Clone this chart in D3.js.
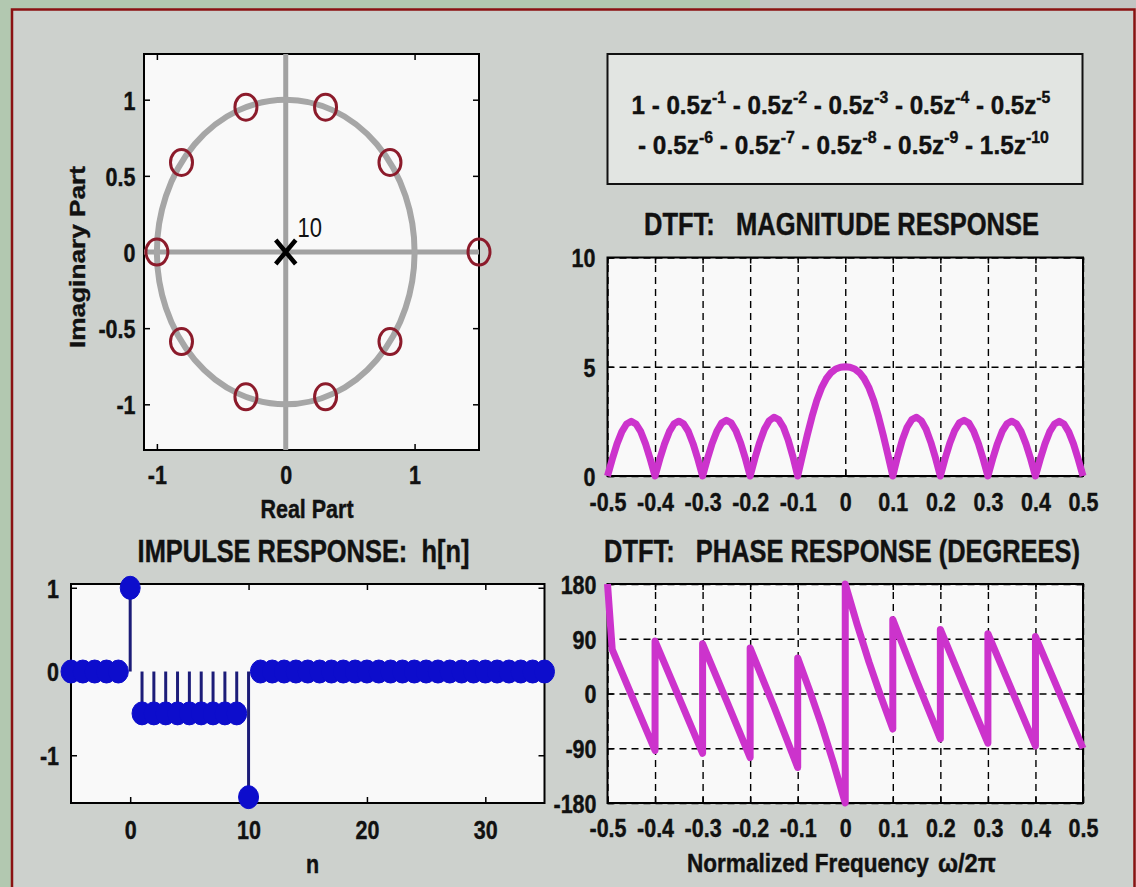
<!DOCTYPE html>
<html lang="en">
<head>
<meta charset="UTF-8">
<title>zplane / impulse / dtft</title>
<script src="https://cdn.jsdelivr.net/npm/d3@7"></script>
<style>
  body { margin: 0; background: #cdd1cd; }
  svg { display: block; }
  text { font-family: "Liberation Sans", Arial, Helvetica, sans-serif; font-weight: bold; fill: #111;
         stroke: #111; stroke-width: 0.35px; white-space: pre; }
</style>
</head>
<body>
<svg id="chart" width="1136" height="887"></svg>
<script>
// numerator of H(z): 1 - 0.5z^-1 - ... - 0.5z^-9 - 1.5z^-10
const numCoef = [1, -0.5, -0.5, -0.5, -0.5, -0.5, -0.5, -0.5, -0.5, -0.5, -1.5];

// zeros and poles
const zeroRe = [1.5, 0.809, 0.309, -0.309, -0.809, -1, -0.809, -0.309, 0.309, 0.809];
const zeroIm = [0, 0.588, 0.951, 0.951, 0.588, 0, -0.588, -0.951, -0.951, -0.588];
const poleRe = [0];
const poleIm = [0];
const poleOrder = ['10'];

// impulse response, n = -5 .. 35
const nStart = -5;
const hn = [0, 0, 0, 0, 0, 1, -0.5, -0.5, -0.5, -0.5, -0.5, -0.5, -0.5, -0.5, -0.5, -1.5,
            0, 0, 0, 0, 0, 0, 0, 0, 0, 0, 0, 0, 0, 0, 0, 0, 0, 0, 0, 0, 0, 0, 0, 0, 0];

// |H| sampled every 0.01 from -0.5 to 0.5
const magStep = 0.01;
const magVals = [0, 0.77, 1.47, 2.02, 2.38, 2.50, 2.38, 2.03, 1.47, 0.77,
                 0, 0.78, 1.47, 2.03, 2.39, 2.51, 2.39, 2.04, 1.48, 0.78,
                 0, 0.78, 1.49, 2.05, 2.42, 2.55, 2.43, 2.07, 1.51, 0.80,
                 0, 0.81, 1.54, 2.14, 2.53, 2.69, 2.58, 2.23, 1.65, 0.88,
                 0, 0.94, 1.86, 2.71, 3.45, 4.03, 4.45, 4.73, 4.90, 4.98,
                 5.00,
                 4.98, 4.90, 4.73, 4.45, 4.03, 3.45, 2.71, 1.86, 0.94, 0,
                 0.88, 1.65, 2.23, 2.58, 2.69, 2.53, 2.14, 1.54, 0.81, 0,
                 0.80, 1.51, 2.07, 2.43, 2.55, 2.42, 2.05, 1.49, 0.78, 0,
                 0.78, 1.48, 2.04, 2.39, 2.51, 2.39, 2.03, 1.47, 0.78, 0,
                 0.77, 1.47, 2.03, 2.38, 2.50, 2.38, 2.02, 1.47, 0.77, 0];

// phase (degrees): corners of the saw-tooth, jumps listed twice
const phaseFreq = [-0.5, -0.49, -0.45, -0.4, -0.4, -0.35, -0.3, -0.3, -0.25, -0.2, -0.2, -0.15,
                   -0.1, -0.1, -0.075, -0.05, -0.025, 0, 0, 0.025, 0.05, 0.075, 0.1, 0.1,
                   0.15, 0.2, 0.2, 0.25, 0.3, 0.3, 0.35, 0.4, 0.4, 0.45, 0.5];
const phaseDeg = [180, 72, -1.8, -93.7, 86.3, -5.8, -98.3, 81.7, -11.3, -105.4, 74.6, -21.4,
                  -121.6, 58.4, 5.2, -51.6, -113.5, -180, 180, 113.5, 51.6, -5.2, -58.4, 121.6,
                  21.4, -74.6, 105.4, 11.3, -81.7, 98.3, 5.8, -86.3, 93.7, 1.8, -90];

// tick values
const pzXTicks = [-1, 0, 1];
const pzYTicks = [-1, -0.5, 0, 0.5, 1];
const nTicks = [0, 10, 20, 30];
const hTicks = [-1, 0, 1];
const freqTicks = [-0.5, -0.4, -0.3, -0.2, -0.1, 0, 0.1, 0.2, 0.3, 0.4, 0.5];
const magTicks = [0, 5, 10];
const phaseTicks = [-180, -90, 0, 90, 180];

const VS = 1.22;          // the captured frame is stretched vertically
const TICK_FONT = 21.5;
const MAGENTA = '#cc33cc';
const svg = d3.select('#chart');

// background frame
svg.append('rect').attr('width', 1136).attr('height', 887).attr('fill', '#cdd1cd');
svg.append('rect').attr('width', 750).attr('height', 9).attr('fill', '#b2c8b0');
svg.append('rect').attr('x', 750).attr('width', 386).attr('height', 9).attr('fill', '#c3c5c3');
svg.append('rect').attr('width', 11).attr('height', 887).attr('fill', '#b2c8b0');
svg.append('path').attr('d', 'M12,887V9.5H1134.5V887')
    .attr('fill', 'none').attr('stroke', '#8a1212').attr('stroke-width', 2.5);

// text helper: anchor at (x,y), stretched vertically like the rest of the frame
function label(parent, x, y, str, o = {}) {
    const g = parent.append('g');
    const t = g.append('text')
        .attr('text-anchor', o.anchor || 'middle')
        .attr('dy', o.dy == null ? '0.36em' : o.dy)
        .style('font-size', (o.size || TICK_FONT) + 'px')
        .text(str);
    if (o.weight) t.style('font-weight', o.weight).style('stroke-width', 0);
    if (o.rotate) t.attr('transform', 'rotate(-90)');
    let sx = 1;
    if (o.width) sx = o.width / t.node().getComputedTextLength();
    g.attr('transform', `translate(${x},${y}) scale(${sx},${VS})`);
    return t;
}

function makeAxes(box, xDom, yDom, o) {
    const x = d3.scaleLinear().domain(xDom).range([box.l, box.r]);
    const y = d3.scaleLinear().domain(yDom).range([box.b, box.t]);
    const w = box.r - box.l, h = box.b - box.t;
    const g = svg.append('g');
    g.append('rect').attr('x', box.l).attr('y', box.t).attr('width', w).attr('height', h).attr('fill', '#f9f9f9');

    if (o.grid) {
        g.append('g').attr('class', 'grid').attr('transform', `translate(0,${box.b})`)
            .call(d3.axisBottom(x).tickValues(o.xTicks).tickSize(-h).tickFormat(''));
        g.append('g').attr('class', 'grid').attr('transform', `translate(${box.l},0)`)
            .call(d3.axisLeft(y).tickValues(o.yTicks).tickSize(-w).tickFormat(''));
        g.selectAll('.grid .domain').remove();
        g.selectAll('.grid line').attr('stroke', '#000').attr('stroke-width', 1.4).attr('stroke-dasharray', '7,5');
    }

    g.append('rect').attr('x', box.l).attr('y', box.t).attr('width', w).attr('height', h)
        .attr('fill', 'none').attr('stroke', '#000').attr('stroke-width', 2);

    const bottom = g.append('g').attr('transform', `translate(0,${box.b})`)
        .call(d3.axisBottom(x).tickValues(o.xTicks).tickSizeInner(-6).tickSizeOuter(0).tickFormat(String));
    const left = g.append('g').attr('transform', `translate(${box.l},0)`)
        .call(d3.axisLeft(y).tickValues(o.yTicks).tickSizeInner(-6).tickSizeOuter(0).tickFormat(String));
    const top = g.append('g').attr('transform', `translate(0,${box.t})`)
        .call(d3.axisTop(x).tickValues(o.xTicks).tickSizeInner(-6).tickSizeOuter(0).tickFormat(''));
    const right = g.append('g').attr('transform', `translate(${box.r},0)`)
        .call(d3.axisRight(y).tickValues(o.yTicks).tickSizeInner(-6).tickSizeOuter(0).tickFormat(''));
    [bottom, left, top, right].forEach(a => {
        a.select('.domain').remove();
        a.selectAll('line').attr('stroke', '#000').attr('stroke-width', 1.5);
    });
    bottom.selectAll('text').attr('y', null).attr('dy', '0.36em').style('font-size', TICK_FONT + 'px')
        .attr('transform', `translate(0,${o.xOff}) scale(1,${VS})`);
    left.selectAll('text').attr('x', null).attr('dy', '0.36em').style('font-size', TICK_FONT + 'px')
        .attr('transform', `translate(${-o.yOff},0) scale(1,${VS})`);

    const data = svg.append('g');
    return { x, y, data };
}

// ---------- pole-zero plot ----------
const pz = makeAxes({ l: 144, r: 479, t: 54, b: 450 }, [-1.1, 1.5], [-1.3, 1.3],
    { xTicks: pzXTicks, yTicks: pzYTicks, xOff: 25, yOff: 8.5 });
pz.data.append('line').attr('x1', pz.x.range()[0]).attr('x2', pz.x.range()[1])
    .attr('y1', pz.y(0)).attr('y2', pz.y(0)).attr('stroke', '#a2a2a2').attr('stroke-width', 5);
pz.data.append('line').attr('x1', pz.x(0)).attr('x2', pz.x(0))
    .attr('y1', pz.y.range()[0]).attr('y2', pz.y.range()[1]).attr('stroke', '#a2a2a2').attr('stroke-width', 5);
pz.data.append('ellipse').attr('cx', pz.x(0)).attr('cy', pz.y(0))
    .attr('rx', pz.x(1) - pz.x(0)).attr('ry', pz.y(0) - pz.y(1))
    .attr('fill', 'none').attr('stroke', '#a6a6a6').attr('stroke-width', 6);
pz.data.selectAll('.zero').data(zeroRe).join('ellipse')
    .attr('cx', d => pz.x(d)).attr('cy', (d, i) => pz.y(zeroIm[i]))
    .attr('rx', 11).attr('ry', 13)
    .attr('fill', 'none').attr('stroke', '#8c1b2b').attr('stroke-width', 3);
pz.data.selectAll('.pole').data(poleRe).join('path')
    .attr('d', (d, i) => {
        const cx = pz.x(d), cy = pz.y(poleIm[i]);
        return `M${cx - 10},${cy - 12}L${cx + 10},${cy + 12}M${cx - 10},${cy + 12}L${cx + 10},${cy - 12}`;
    })
    .attr('stroke', '#000').attr('stroke-width', 4.5).attr('fill', 'none');
poleRe.forEach((d, i) => label(pz.data, pz.x(d) + 24, pz.y(poleIm[i]) - 25, poleOrder[i], { size: 22, weight: 'normal' }));
label(svg, 307, 509, 'Real Part');
label(svg, 85, 257, 'Imaginary Part', { rotate: true, dy: 0 });

// ---------- impulse response ----------
const imp = makeAxes({ l: 71, r: 544.5, t: 584, b: 803 }, [-5, 35], [-1.57, 1.045],
    { xTicks: nTicks, yTicks: hTicks, xOff: 27, yOff: 12 });
const hData = hn.map((v, i) => ({ n: nStart + i, v }));
imp.data.selectAll('line').data(hData.filter(d => d.v !== 0)).join('line')
    .attr('x1', d => imp.x(d.n)).attr('x2', d => imp.x(d.n))
    .attr('y1', imp.y(0)).attr('y2', d => imp.y(d.v))
    .attr('stroke', '#1c1c78').attr('stroke-width', 3);
imp.data.selectAll('ellipse').data(hData).join('ellipse')
    .attr('cx', d => imp.x(d.n)).attr('cy', d => imp.y(d.v))
    .attr('rx', 10).attr('ry', 11.5)
    .attr('fill', '#0d0dcc').attr('stroke', '#0d0dcc').attr('stroke-width', 1);
label(svg, 303.5, 561.5, 'IMPULSE RESPONSE:  h[n]', { size: 25, dy: 0, width: 332 });
label(svg, 312.5, 866, 'n', { dy: '0.26em' });

// ---------- equation box ----------
svg.append('rect').attr('x', 607.5).attr('y', 54).attr('width', 475).attr('height', 130)
    .attr('fill', '#e2e5e2').attr('stroke', '#111').attr('stroke-width', 2);
function equationLine(x, y, ks, width) {
    const g = svg.append('g');
    const t = g.append('text').attr('text-anchor', 'start').style('font-size', TICK_FONT + 'px');
    ks.forEach((k, j) => {
        const c = numCoef[k];
        const afterSup = j > 0 && ks[j - 1] > 0;
        let main;
        if (k === 0) main = String(c);
        else main = (j === 0 ? '' : ' ') + (c < 0 ? '-' : '+') + ' ' + Math.abs(c) + 'z';
        t.append('tspan').attr('dy', afterSup ? 9 : 0).text(main);
        if (k > 0) t.append('tspan').attr('dy', -9).style('font-size', '14px').text('-' + k);
    });
    const sx = width / t.node().getComputedTextLength();
    g.attr('transform', `translate(${x},${y}) scale(${sx},${VS})`);
}
equationLine(631.5, 114, [0, 1, 2, 3, 4, 5], 419);
equationLine(638, 153.5, [6, 7, 8, 9, 10], 411);

// ---------- magnitude ----------
const mag = makeAxes({ l: 607.5, r: 1083, t: 257.5, b: 476 }, [-0.5, 0.5], [0, 10],
    { xTicks: freqTicks, yTicks: magTicks, xOff: 26, yOff: 12, grid: true });
const magData = magVals.map((v, i) => ({ f: -0.5 + i * magStep, v }));
mag.data.append('path').datum(magData)
    .attr('fill', 'none').attr('stroke', MAGENTA).attr('stroke-width', 7).attr('stroke-linejoin', 'round')
    .attr('d', d3.line().x(d => mag.x(d.f)).y(d => mag.y(d.v)));
label(svg, 841.5, 235, 'DTFT:   MAGNITUDE RESPONSE', { size: 25, dy: 0, width: 395 });

// ---------- phase ----------
const ph = makeAxes({ l: 607.5, r: 1083, t: 584, b: 803 }, [-0.5, 0.5], [-180, 180],
    { xTicks: freqTicks, yTicks: phaseTicks, xOff: 25, yOff: 11, grid: true });
const phData = phaseFreq.map((f, i) => ({ f, v: phaseDeg[i] }));
ph.data.append('path').datum(phData)
    .attr('fill', 'none').attr('stroke', MAGENTA).attr('stroke-width', 7).attr('stroke-linejoin', 'round')
    .attr('d', d3.line().x(d => ph.x(d.f)).y(d => ph.y(d.v)));
label(svg, 842, 561.5, 'DTFT:   PHASE RESPONSE (DEGREES)', { size: 25, dy: 0, width: 476 });
label(svg, 687, 871.5, 'Normalized Frequency', { anchor: 'start', dy: 0, width: 242 });
label(svg, 938, 871.5, 'ω/2π', { anchor: 'start', dy: 0, width: 58 });
</script>
</body>
</html>
